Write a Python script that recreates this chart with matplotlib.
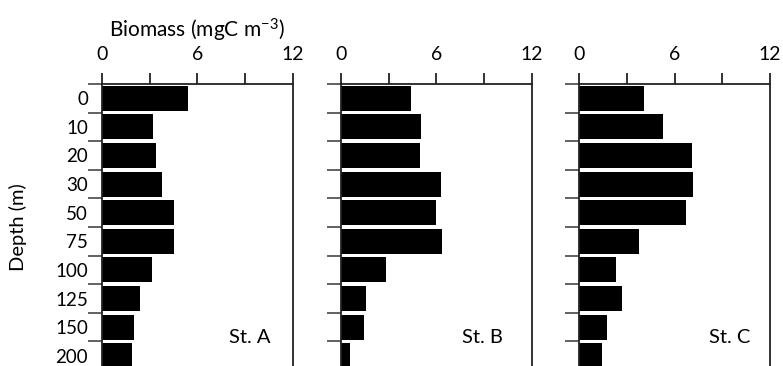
import matplotlib.pyplot as plt
import numpy as np

depths = ['0', '10', '20', '30', '50', '75', '100', '125', '150', '200']
st_a = [5.40, 3.22, 3.38, 3.78, 4.56, 4.56, 3.17, 2.42, 2.02, 1.89]
st_b = [4.40, 5.05, 4.96, 6.30, 6.01, 6.39, 2.83, 1.59, 1.44, 0.57]
st_c = [4.07, 5.29, 7.11, 7.16, 6.73, 3.78, 2.33, 2.67, 1.76, 1.45]
stations = ['St. A', 'St. B', 'St. C']

plt.rcParams['font.family'] = ['Lato', 'DejaVu Sans']
plt.rcParams['mathtext.fontset'] = 'custom'
plt.rcParams['mathtext.rm'] = 'Lato'
plt.rcParams['axes.unicode_minus'] = False

W, H = 783, 366
fig = plt.figure(figsize=(W / 100, H / 100), dpi=100)

lefts = [102, 341, 579.3]
label_x = [9.3, 8.9, 9.45]
top = 84
width = 190.5
height = 286

y = np.arange(len(depths))
for i, (vals, name) in enumerate(zip([st_a, st_b, st_c], stations)):
    ax = fig.add_axes([lefts[i] / W, (H - top - height) / H, width / W, height / H])
    ax.barh(y, vals, height=0.87, color='black')
    ax.set_xlim(0, 12)
    ax.set_ylim(len(depths) - 0.5, -0.5)
    ax.xaxis.tick_top()
    ax.set_xticks([0, 3, 6, 9, 12])
    ax.set_xticklabels(['0', '', '6', '', '12'], fontsize=14)
    ax.tick_params(axis='x', direction='out', length=8, width=1.3, pad=7, color='#222222')
    ax.set_yticks(y)
    ax.set_yticks(np.arange(len(depths) + 1) - 0.5, minor=True)
    ax.tick_params(axis='y', which='major', length=0, pad=10)
    ax.tick_params(axis='y', which='minor', direction='out', length=10, width=1.3, color='#555555')
    if i == 0:
        ax.set_yticklabels(depths, fontsize=13.5)
        ax.set_ylabel('Depth (m)', fontsize=14.5, labelpad=20)
        ax.set_xlabel('Biomass (mgC m$\\mathregular{^{-3}}$)', fontsize=15, labelpad=6)
        ax.xaxis.set_label_position('top')
    else:
        ax.set_yticklabels([])
    for s in ax.spines.values():
        s.set_linewidth(1.3)
        s.set_color('#222222')
    ax.text(label_x[i], 8.36, name, fontsize=14.5, ha='center', va='center')

fig.savefig('out.png', dpi=100)
